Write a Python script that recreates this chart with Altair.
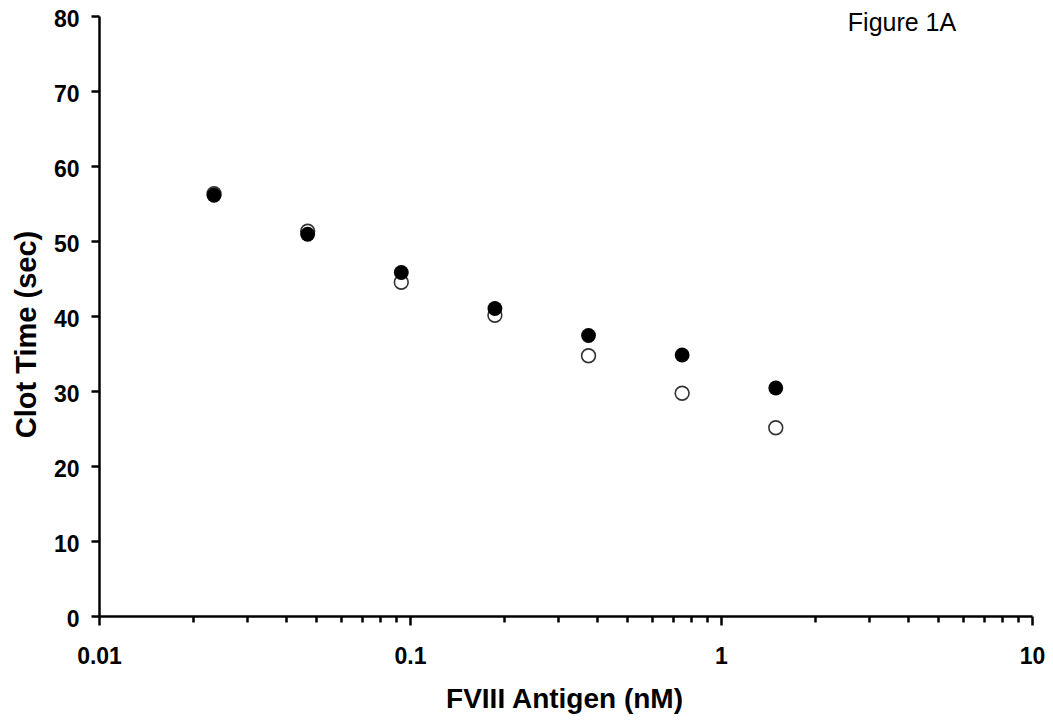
import altair as alt
import pandas as pd

# ---- data ----
antigen_nm = [0.0234375, 0.046875, 0.09375, 0.1875, 0.375, 0.75, 1.5]
clot_filled = [56.1, 50.9, 45.8, 41.0, 37.4, 34.8, 30.4]
clot_open = [56.3, 51.3, 44.5, 40.1, 34.7, 29.7, 25.1]

x_major = [0.01, 0.1, 1, 10]
x_minor = [k * d for d in [0.01, 0.1, 1] for k in range(2, 10)]
y_ticks = [0, 10, 20, 30, 40, 50, 60, 70, 80]
panel_label = ["Figure 1A"]

FONT = "Liberation Sans"

df_f = pd.DataFrame({"x": antigen_nm, "y": clot_filled})
df_o = pd.DataFrame({"x": antigen_nm, "y": clot_open})

major_test = "indexof([0.01, 0.1, 1, 10], datum.value) >= 0"

common_axis = dict(
    grid=False,
    domainColor="black",
    domainWidth=2.5,
    tickColor="black",
    tickWidth=2.5,
    labelFont=FONT,
    labelFontSize=23,
    labelFontWeight="bold",
    labelColor="black",
    labelFlush=False,
    labelOverlap=False,
    titleFont=FONT,
    titleFontWeight="bold",
    titleColor="black",
)

x_enc = alt.X(
    "x:Q",
    scale=alt.Scale(type="log", domain=[0.01, 10], nice=False),
    axis=alt.Axis(
        values=sorted(x_major + x_minor),
        title="FVIII Antigen (nM)",
        labelExpr=f"{major_test} ? toString(datum.value) : ''",
        tickSize={"condition": {"test": major_test, "value": 9}, "value": 6},
        labelPadding=20,
        titleX=465,
        titleY=91,
        titleBaseline="alphabetic",
        titleFontSize=28,
        **common_axis,
    ),
)
y_enc = alt.Y(
    "y:Q",
    scale=alt.Scale(domain=[0, 80], nice=False),
    axis=alt.Axis(
        values=y_ticks,
        title="Clot Time (sec)",
        tickSize=8,
        labelPadding=12,
        labelOffset=3,
        titleX=-73,
        titleY=318,
        titleBaseline="middle",
        titleAlign="center",
        titleFontSize=29,
        **common_axis,
    ),
)

open_pts = alt.Chart(df_o).mark_point(
    shape="circle", filled=False, fill="white", fillOpacity=1,
    stroke="#333333", strokeWidth=1.6, size=190, opacity=1
).encode(x=x_enc, y=y_enc)

filled_pts = alt.Chart(df_f).mark_point(
    shape="circle", filled=True, color="black", size=220, opacity=1
).encode(x=x_enc, y=y_enc)

label = alt.Chart(pd.DataFrame({"t": panel_label})).mark_text(
    font=FONT, fontSize=25, color="black", align="center", baseline="alphabetic"
).encode(text="t:N", x=alt.value(803), y=alt.value(15))

chart = (
    alt.layer(open_pts, filled_pts, label)
    .properties(
        width=933,
        height=600,
        autosize=alt.AutoSizeParams(type="none"),
        padding={"left": 91, "top": 8, "right": 13, "bottom": 98},
        background="white",
    )
    .configure_view(stroke=None)
    .configure_axis(**common_axis)
)

chart.save("out.html", embed_options={"renderer": "svg", "actions": False})
